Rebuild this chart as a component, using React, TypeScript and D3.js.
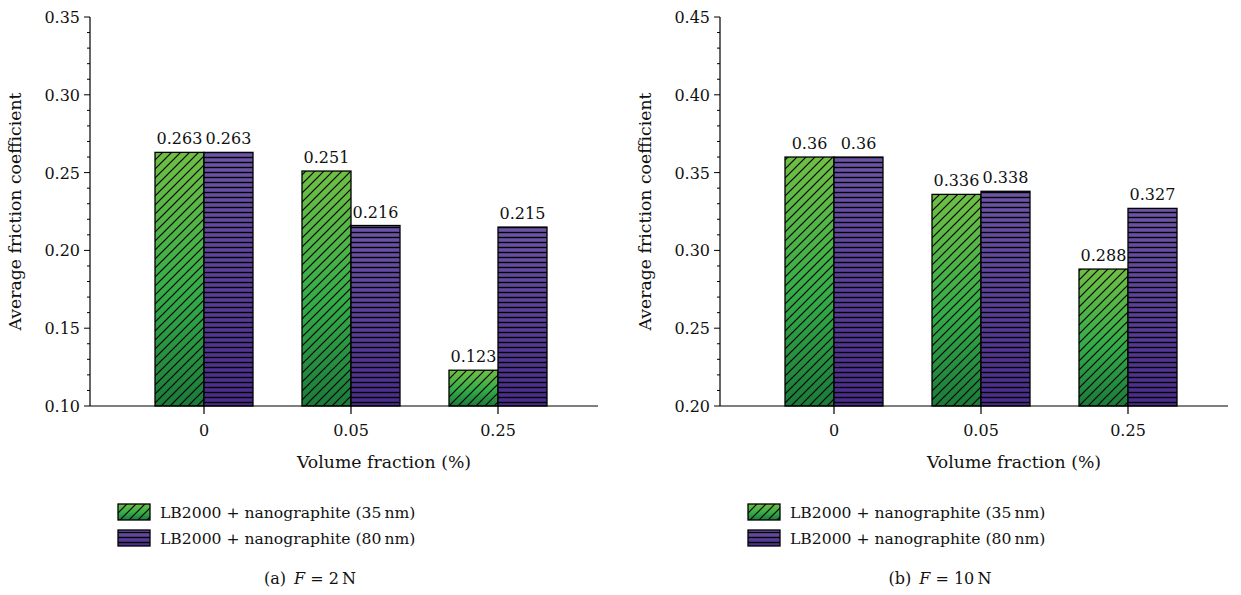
import * as d3 from 'd3';

const categories = ['0', '0.05', '0.25'];
const seriesNames = ['LB2000 + nanographite (35\u2009nm)', 'LB2000 + nanographite (80\u2009nm)'];

// F = 2 N
const a35 = [0.263, 0.251, 0.123];
const a80 = [0.263, 0.216, 0.215];
const aTicks = [0.1, 0.15, 0.2, 0.25, 0.3, 0.35];

// F = 10 N
const b35 = [0.36, 0.336, 0.288];
const b80 = [0.36, 0.338, 0.327];
const bTicks = [0.2, 0.25, 0.3, 0.35, 0.4, 0.45];

const FONT = "'DejaVu Serif', serif";
const TOP = 17;
const BOTTOM = 406;
const STEP = 147;
const OFFSET = 114;
const AXIS_LEN = 508;
const BAR_W = 49;

const labelFmt = (v) => String(v);

const Panel = ({ left, ticks, s35, s80, letter, force, id }) => {
    const yScale = d3
        .scaleLinear()
        .domain([ticks[0], ticks[ticks.length - 1]])
        .range([BOTTOM, TOP]);
    const xScale = d3
        .scaleLinear()
        .domain([0, 1])
        .range([left + OFFSET, left + OFFSET + STEP]);

    const step = ticks[1] - ticks[0];
    const minor = d3.range(ticks[0], ticks[ticks.length - 1] + 1e-9, step / 5);

    const bars = categories.map((c, i) => {
        const cx = xScale(i);
        const y35 = yScale(s35[i]);
        const y80 = yScale(s80[i]);
        return (
            <g key={c}>
                <rect x={cx - BAR_W} y={y35} width={BAR_W} height={BOTTOM - y35} fill={`url(#g35${id})`} />
                <rect x={cx - BAR_W} y={y35} width={BAR_W} height={BOTTOM - y35} fill="url(#hatch)" />
                <rect x={cx - BAR_W} y={y35} width={BAR_W} height={BOTTOM - y35} fill="none" stroke="#000" strokeWidth={1.3} />
                <rect x={cx} y={y80} width={BAR_W} height={BOTTOM - y80} fill={`url(#g80${id})`} />
                <rect x={cx} y={y80} width={BAR_W} height={BOTTOM - y80} fill="url(#stripes)" />
                <rect x={cx} y={y80} width={BAR_W} height={BOTTOM - y80} fill="none" stroke="#000" strokeWidth={1.3} />
                <text x={cx - BAR_W / 2} y={y35 - 8} textAnchor="middle" fontSize={16}>{labelFmt(s35[i])}</text>
                <text x={cx + BAR_W / 2} y={y80 - 8} textAnchor="middle" fontSize={16}>{labelFmt(s80[i])}</text>
                <line x1={cx} x2={cx} y1={BOTTOM} y2={BOTTOM + 8} stroke="#000" strokeWidth={1.2} />
                <text x={cx} y={436} textAnchor="middle" fontSize={16}>{c}</text>
            </g>
        );
    });

    const legendX = left + 28;
    return (
        <g style={{ fontFamily: FONT }} fill="#111">
            <defs>
                <linearGradient id={`g35${id}`} x1="0" y1="0" x2="0" y2="1">
                    <stop offset="0" stopColor="#6fbf44" />
                    <stop offset="0.55" stopColor="#34ad48" />
                    <stop offset="1" stopColor="#1b7a3a" />
                </linearGradient>
                <linearGradient id={`g80${id}`} x1="0" y1="0" x2="0" y2="1">
                    <stop offset="0" stopColor="#6c54a6" />
                    <stop offset="1" stopColor="#4a2b8a" />
                </linearGradient>
            </defs>
            {bars}
            {/* y axis */}
            <line x1={left} x2={left} y1={TOP} y2={BOTTOM} stroke="#000" strokeWidth={1.2} />
            {minor.map((t, i) => (
                <line key={i} x1={left - (i % 5 === 0 ? 6 : 3)} x2={left} y1={yScale(t)} y2={yScale(t)} stroke="#000" strokeWidth={1} />
            ))}
            {ticks.map((t) => (
                <text key={t} x={left - 10} y={yScale(t) + 6} textAnchor="end" fontSize={16}>{t.toFixed(2)}</text>
            ))}
            {/* x axis */}
            <line x1={left} x2={left + AXIS_LEN} y1={BOTTOM} y2={BOTTOM} stroke="#000" strokeWidth={1.2} />
            <text x={left + 294} y={468} textAnchor="middle" fontSize={17.3}>Volume fraction (%)</text>
            <text transform={`translate(${left - 69},${(TOP + BOTTOM) / 2}) rotate(-90)`} textAnchor="middle" fontSize={17.3}>Average friction coefficient</text>
            {/* legend */}
            {seriesNames.map((s, i) => (
                <g key={s} transform={`translate(${legendX},${504 + i * 26})`}>
                    <rect width={32} height={16} fill={i === 0 ? `url(#g35${id})` : `url(#g80${id})`} />
                    <rect width={32} height={16} fill={i === 0 ? 'url(#hatch)' : 'url(#stripes)'} />
                    <rect width={32} height={16} fill="none" stroke="#000" strokeWidth={1.3} />
                    <text x={42} y={14} fontSize={15.6}>{s}</text>
                </g>
            ))}
            <text x={left + 220} y={584} textAnchor="middle" fontSize={16}>
                ({letter}){'\u2002'}<tspan fontStyle="italic">F</tspan> = {force}{'\u2009'}N
            </text>
        </g>
    );
};

export default function App() {
    return (
        <svg width={1241} height={595} style={{ position: 'absolute', left: 0, top: 0, background: '#fff' }}>
            <defs>
                <pattern id="hatch" patternUnits="userSpaceOnUse" width={9} height={9}>
                    <path d="M0,9 L9,0 M-2,2 L2,-2 M7,11 L11,7" stroke="#000" strokeWidth={1.2} />
                </pattern>
                <pattern id="stripes" patternUnits="userSpaceOnUse" width={10} height={5}>
                    <line x1={0} x2={10} y1={2.5} y2={2.5} stroke="#000" strokeWidth={1.4} />
                </pattern>
            </defs>
            <Panel left={90} ticks={aTicks} s35={a35} s80={a80} letter="a" force="2" id="a" />
            <Panel left={720} ticks={bTicks} s35={b35} s80={b80} letter="b" force="10" id="b" />
        </svg>
    );
}
